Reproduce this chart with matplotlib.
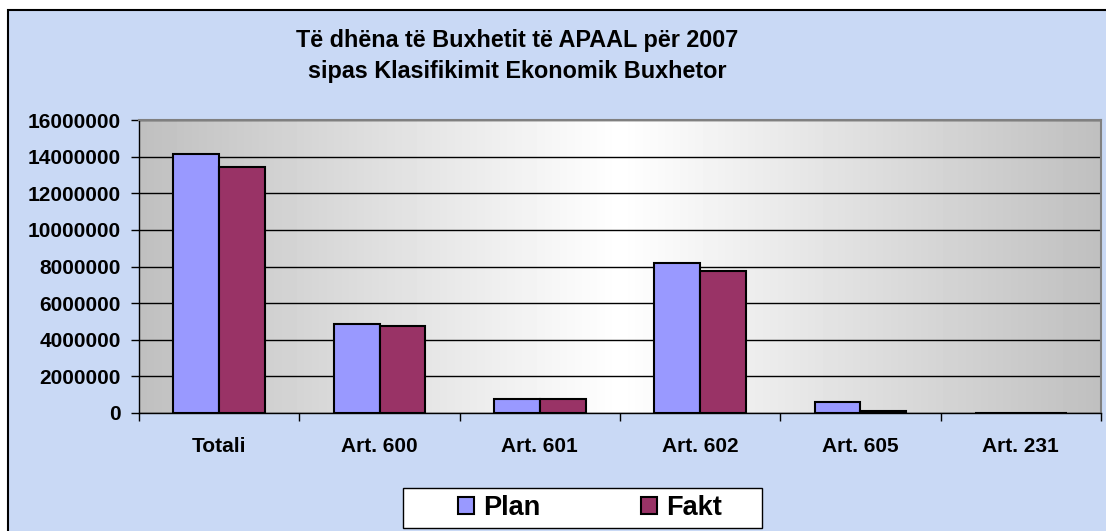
import numpy as np
import matplotlib
matplotlib.use('Agg')
import matplotlib.pyplot as plt
from matplotlib.patches import Rectangle

# Data
categories = ['Totali', 'Art. 600', 'Art. 601', 'Art. 602', 'Art. 605', 'Art. 231']
plan = [14150000, 4860000, 780000, 8170000, 580000, 0]
fakt = [13450000, 4750000, 770000, 7770000, 100000, 0]
yticks = [0, 2000000, 4000000, 6000000, 8000000, 10000000, 12000000, 14000000, 16000000]

plan_color = '#9999ff'
fakt_color = '#993366'

plt.rcParams['font.family'] = ['Liberation Sans', 'DejaVu Sans']
plt.rcParams['font.weight'] = 'bold'

fig = plt.figure(figsize=(11.06, 5.31), dpi=100, facecolor='white')
W, H = 1106.0, 531.0

# chart area background with black border (cut off at right/bottom)
bg = fig.add_axes([0, 0, 1, 1], zorder=-1)
bg.set_xlim(0, 1)
bg.set_ylim(0, 1)
bg.axis('off')
bg.add_patch(Rectangle((8 / W, -0.05), 1.1, 1.05 - 10 / H, facecolor='#c9d9f5',
                       edgecolor='black', linewidth=1.5))

ax = fig.add_axes([139 / W, 1 - 413 / H, (1101 - 139) / W, (413 - 120) / H], zorder=1)

# horizontal gradient of the plot area: gray edges, white centre
t = np.linspace(0, 1, 256)
grad = 1 - np.abs(t - 0.5) * 2
img = 0.75 + 0.25 * grad
ax.imshow(img[np.newaxis, :], cmap='gray', vmin=0, vmax=1, aspect='auto',
          extent=[0, 1, 0, 1], transform=ax.transAxes, zorder=0)

x = np.arange(len(categories))
w = 1 / 3.5
ax.bar(x - w / 2, plan, width=w, color=plan_color, edgecolor='black',
       linewidth=1.5, label='Plan', zorder=3)
ax.bar(x + w / 2, fakt, width=w, color=fakt_color, edgecolor='black',
       linewidth=1.5, label='Fakt', zorder=3)

ax.set_xlim(-0.5, len(categories) - 0.5)
ax.set_ylim(0, 16000000)
ax.set_yticks(yticks)
ax.set_yticklabels([str(v) for v in yticks], fontsize=15, fontweight='bold')
ax.yaxis.grid(True, color='black', linewidth=1)
ax.set_axisbelow(True)

ax.set_xticks(np.arange(len(categories) + 1) - 0.5)
ax.set_xticklabels([])
ax.set_xticks(x, minor=True)
ax.set_xticklabels(categories, minor=True, fontsize=15, fontweight='bold')
ax.tick_params(axis='x', which='minor', length=0, pad=17)
ax.tick_params(axis='x', which='major', length=6, width=1, direction='out')
ax.tick_params(axis='y', length=6, width=1, direction='out', pad=7)

for s in ['top', 'right']:
    ax.spines[s].set_color('#808080')
    ax.spines[s].set_linewidth(1.5)
for s in ['left', 'bottom']:
    ax.spines[s].set_color('black')
    ax.spines[s].set_linewidth(1)

fig.text(517 / W, 1 - 40 / H, 'Të dhëna të Buxhetit të APAAL për 2007',
         ha='center', va='center', fontsize=16.8, fontweight='bold')
fig.text(517 / W, 1 - 71 / H, 'sipas Klasifikimit Ekonomik Buxhetor',
         ha='center', va='center', fontsize=16.8, fontweight='bold')

# legend box drawn separately, entries placed inside it
bg.add_patch(Rectangle((403 / W, 1 - 528 / H), (762 - 403) / W, 40 / H,
                       facecolor='white', edgecolor='black', linewidth=1))
leg = ax.legend(loc='center', bbox_to_anchor=(590 / W, 1 - 508 / H),
                bbox_transform=fig.transFigure, ncol=2,
                prop={'size': 19.5, 'weight': 'bold'}, frameon=False,
                columnspacing=3.7, handlelength=0.6, handleheight=0.6,
                handletextpad=0.35, borderpad=0, borderaxespad=0)

fig.savefig('out.png', dpi=100, facecolor=fig.get_facecolor())
